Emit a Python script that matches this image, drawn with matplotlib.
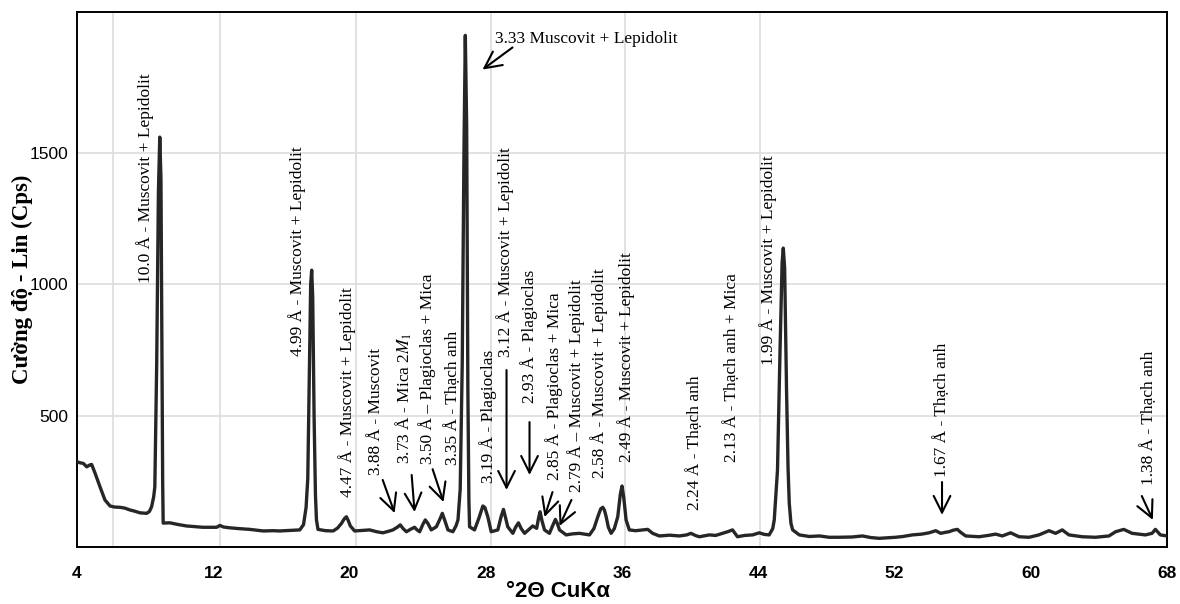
import matplotlib
matplotlib.use('Agg')
import matplotlib.pyplot as plt

# XRD pattern (2 theta in degrees, intensity in cps)
two_theta = [4.0, 4.2, 4.37, 4.57, 4.75, 4.86, 5.06, 5.35, 5.64, 5.94, 6.2, 6.52, 6.8, 7.1, 7.4, 7.7,
             8.09, 8.25, 8.38, 8.5, 8.57, 8.68, 8.78, 8.86, 8.93, 8.99, 9.03, 9.06, 9.45, 9.9, 10.43,
             11.0, 11.4, 12.2, 12.39, 12.6, 12.97, 13.5, 14.15, 14.93, 15.5, 15.9, 16.5, 17.08, 17.3,
             17.45, 17.55, 17.64, 17.72, 17.78, 17.84, 17.92, 18.0, 18.06, 18.15, 18.6, 19.04, 19.3,
             19.53, 19.7, 19.82, 19.93, 20.05, 20.3, 20.7, 21.18, 21.6, 21.96, 22.3, 22.55, 22.8,
             22.98, 23.15, 23.34, 23.6, 23.82, 23.95, 24.12, 24.3, 24.45, 24.6, 24.8, 25.1, 25.3,
             25.45, 25.6, 25.78, 26.07, 26.25, 26.37, 26.5, 26.62, 26.72, 26.8, 26.88, 26.95, 27.01,
             27.05, 27.34, 27.6, 27.83, 27.95, 28.12, 28.32, 28.71, 28.9, 29.04, 29.15, 29.29, 29.59,
             29.75, 29.92, 30.08, 30.28, 30.5, 30.76, 30.99, 31.1, 31.19, 31.3, 31.45, 31.74, 31.92,
             32.09, 32.2, 32.33, 32.72, 33.1, 33.5, 34.09, 34.35, 34.58, 34.75, 34.87, 34.97, 35.07,
             35.2, 35.36, 35.55, 35.75, 35.9, 36.0, 36.1, 36.24, 36.43, 36.8, 37.21, 37.51, 37.8,
             38.19, 38.8, 39.37, 39.8, 40.05, 40.3, 40.54, 41.13, 41.5, 41.9, 42.2, 42.49, 42.78,
             43.2, 43.67, 44.06, 44.35, 44.64, 44.85, 44.94, 45.13, 45.28, 45.4, 45.47, 45.55, 45.66,
             45.75, 45.82, 45.92, 46.02, 46.41, 47.0, 47.6, 48.16, 48.75, 49.5, 50.12, 50.6, 51.1,
             52.07, 52.5, 53.05, 53.6, 54.03, 54.42, 54.71, 55.0, 55.2, 55.45, 55.69, 55.9, 56.18,
             56.96, 57.5, 57.94, 58.33, 58.82, 59.31, 59.9, 60.48, 61.07, 61.46, 61.85, 62.24, 63.02,
             63.8, 64.59, 64.98, 65.46, 65.95, 66.73, 67.12, 67.32, 67.61, 68.0]
cps = [324, 320, 318, 305, 312, 314, 281, 229, 179, 156, 152, 151, 148, 141, 136, 130,
       128, 135, 153, 190, 229, 700, 1350, 1559, 1400, 700, 250, 91, 92, 86, 80,
       77, 75, 75, 82, 76, 73, 70, 67, 61, 62, 61, 63, 65, 85,
       150, 260, 650, 1000, 1053, 950, 500, 200, 103, 67, 62, 61, 72,
       90, 108, 115, 100, 80, 61, 63, 65, 58, 54, 60, 65, 75,
       84, 70, 58, 68, 75, 66, 58, 85, 103, 90, 65, 77, 105,
       128, 100, 65, 58, 80, 103, 220, 700, 1500, 1946, 1600, 600, 180,
       77, 65, 110, 156, 150, 115, 58, 65, 115, 143, 115, 77, 52,
       75, 92, 70, 52, 65, 80, 71, 110, 134, 100, 65, 52, 80,
       105, 90, 65, 46, 50, 52, 46, 70, 115, 145, 151, 140, 115,
       75, 52, 70, 115, 200, 232, 190, 103, 65, 62, 65, 67, 52,
       42, 45, 42, 46, 52, 44, 39, 46, 44, 52, 58, 65, 39,
       44, 46, 54, 48, 46, 70, 103, 293, 750, 1080, 1137, 1060, 600,
       300, 167, 90, 65, 46, 40, 42, 37, 37, 38, 42, 36, 33,
       37, 40, 46, 49, 54, 62, 52, 56, 58, 64, 67, 55, 42,
       39, 44, 49, 42, 54, 39, 37, 46, 62, 52, 65, 46, 39,
       37, 42, 58, 67, 52, 46, 52, 67, 46, 42]

# vertical peak labels: text, 2theta of label centre, cps of label bottom
peak_labels = ['10.0 Å - Muscovit + Lepidolit', '4.99 Å - Muscovit + Lepidolit',
               '4.47 Å - Muscovit + Lepidolit', '3.88 Å - Muscovit', r'3.73 Å - Mica 2$M_1$',
               '3.50 Å – Plagioclas + Mica', '3.35 Å - Thạch anh', '3.19 Å - Plagioclas',
               '3.12 Å - Muscovit + Lepidolit', '2.93 Å - Plagioclas', '2.85 Å - Plagioclas + Mica',
               '2.79 Å – Muscovit + Lepidolit', '2.58 Å - Muscovit + Lepidolit',
               '2.49 Å - Muscovit + Lepidolit', '2.24 Å - Thạch anh', '2.13 Å - Thạch anh + Mica',
               '1.99 Å - Muscovit + Lepidolit', '1.67 Å - Thạch anh', '1.38 Å - Thạch anh']
label_x = [7.99, 16.9, 19.84, 21.54, 23.18, 24.53, 26.05, 28.16, 29.16, 30.57, 32.04,
           33.33, 34.67, 36.26, 40.25, 42.42, 44.59, 54.79, 66.93]
label_y = [1003, 726, 190, 274, 315, 315, 312, 243, 722, 547, 255,
           209, 262, 323, 141, 323, 692, 266, 236]

# main peak label (horizontal)
top_label = '3.33 Muscovit + Lepidolit'
top_label_pos = (28.57, 1934)

# arrows: tail -> head
arrow_tail = [(21.95, 255), (23.65, 274), (24.88, 296), (29.57, 1900), (29.22, 673),
              (30.57, 475), (31.92, 209), (33.03, 179), (54.79, 247), (66.52, 194)]
arrow_head = [(22.65, 129), (23.82, 133), (25.52, 171), (27.81, 1816), (29.22, 217),
              (30.57, 274), (31.45, 114), (32.33, 80), (54.79, 122), (67.17, 103)]

x_ticks = [4, 12, 20, 28, 36, 44, 52, 60, 68]
y_ticks = [500, 1000, 1500]
x_grid = [6.1, 12.4, 20.4, 28.3, 36.2, 44.1, 52.0, 60.0]

plt.rcParams['mathtext.fontset'] = 'stix'
serif = 'Liberation Serif'
sans = 'Liberation Sans'

fig = plt.figure(figsize=(11.8, 6.04), dpi=100)
ax = fig.add_axes([77 / 1180, 57 / 604, 1090 / 1180, 535 / 604])

ax.plot(two_theta, cps, color='#262626', lw=2.4, solid_joinstyle='round', zorder=3)

ax.set_xlim(4, 68)
ax.set_ylim(0, 2035)
ax.set_xticks(x_ticks)
ax.set_xticks(x_grid, minor=True)
ax.set_yticks(y_ticks)
ax.grid(axis='y', which='major', color='#dddddd', lw=1.2)
ax.grid(axis='x', which='minor', color='#dddddd', lw=1.2)
ax.set_axisbelow(True)
ax.tick_params(which='both', length=0)
ax.tick_params(axis='x', pad=14)
ax.tick_params(axis='y', pad=6)
for lab in ax.get_xticklabels():
    lab.set_fontfamily(sans)
    lab.set_fontweight('bold')
    lab.set_fontsize(12.5)
for lab in ax.get_yticklabels():
    lab.set_fontfamily(sans)
    lab.set_fontsize(12.5)
for sp in ax.spines.values():
    sp.set_linewidth(1.4)
    sp.set_color('black')

ax.set_xlabel('°2Θ CuKα', fontfamily=sans, fontweight='bold', fontsize=16)
ax.xaxis.set_label_coords(0.441, -0.064)
ax.set_ylabel('Cường độ - Lin (Cps)', fontfamily=serif, fontweight='bold', fontsize=16.5)
ax.yaxis.set_label_coords(-0.04, 0.5)

for txt, lx, ly in zip(peak_labels, label_x, label_y):
    ax.text(lx, ly, txt, rotation=90, ha='center', va='bottom',
            fontfamily=serif, fontsize=12.5, zorder=4)

ax.text(top_label_pos[0], top_label_pos[1], top_label, ha='left', va='center',
        fontfamily=serif, fontsize=12.5, zorder=4)

for tail, head in zip(arrow_tail, arrow_head):
    ax.annotate('', xy=head, xytext=tail,
                arrowprops=dict(arrowstyle='->, head_length=0.8, head_width=0.4',
                                color='black', lw=1.5, shrinkA=0, shrinkB=0,
                                mutation_scale=15))

fig.savefig('out.png', dpi=100)
